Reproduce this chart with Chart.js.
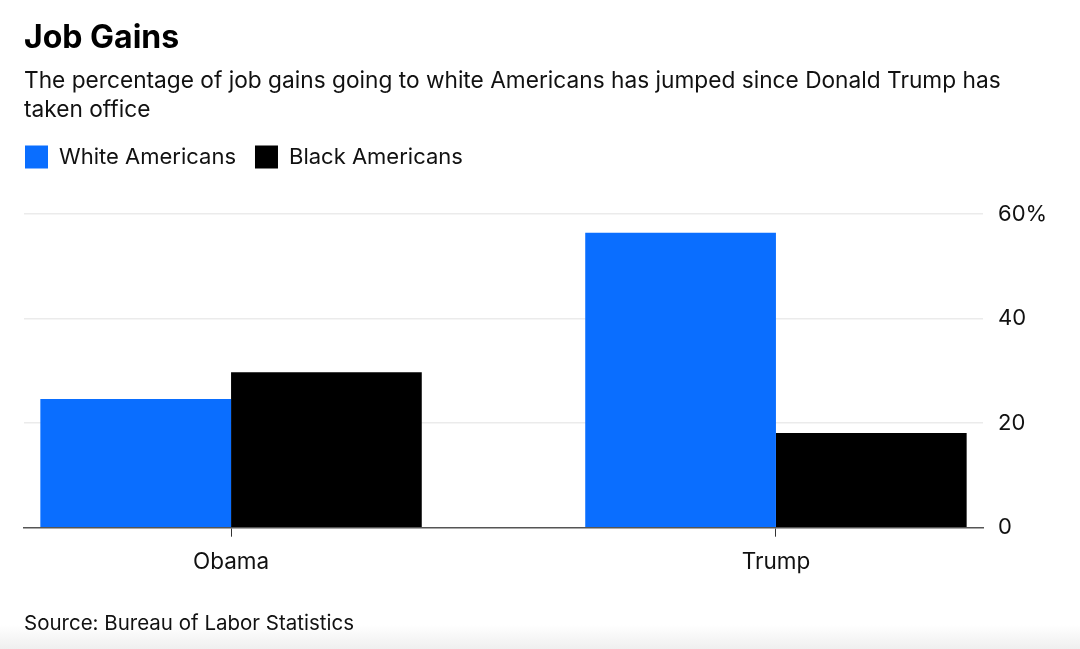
<!DOCTYPE html>
<html>
<head>
<meta charset="utf-8">
<script src="https://cdn.jsdelivr.net/npm/chart.js@4"></script>
<style>
  html, body { margin: 0; padding: 0; }
  body {
    width: 1080px; height: 649px; overflow: hidden;
    background: linear-gradient(to bottom, #ffffff 0px, #ffffff 625px, #efefef 649px);
  }
  #wrap { position: relative; width: 1080px; height: 649px; }
</style>
</head>
<body>
<div id="wrap"><canvas id="c" width="1080" height="649"></canvas></div>
<script>
// ---- data ----
const categories = ['Obama', 'Trump'];
const whiteAmericans = [24.6, 56.4];
const blackAmericans = [29.7, 18.1];
const yTicks = [0, 20, 40, 60];
const titleText = 'Job Gains';
const subtitleLines = ['The percentage of job gains going to white Americans has jumped since Donald Trump has', 'taken office'];
const sourceText = 'Source: Bureau of Labor Statistics';
const seriesNames = ['White Americans', 'Black Americans'];

const FONT = 'Inter, "Liberation Sans", Arial, sans-serif';
const BLUE = '#0a6eff';
const BLACK = '#000000';
const LEGEND_PAD = 19;

const toPoints = arr => arr.map((v, i) => ({ x: i, y: v }));

const legendShift = {
  id: 'legendShift',
  afterLayout(chart) {
    const lg = chart.legend;
    if (lg) { lg.left -= (LEGEND_PAD - 1); lg.right -= (LEGEND_PAD - 1); }
  }
};

new Chart(document.getElementById('c'), {
  type: 'bar',
  data: {
    datasets: [
      { label: seriesNames[0], data: toPoints(whiteAmericans), backgroundColor: BLUE, borderWidth: 0,
        categoryPercentage: 0.7, barPercentage: 1.0 },
      { label: seriesNames[1], data: toPoints(blackAmericans), backgroundColor: BLACK, borderWidth: 0,
        categoryPercentage: 0.7, barPercentage: 1.0 }
    ]
  },
  options: {
    responsive: false,
    animation: false,
    layout: { padding: { left: 24, right: 0, top: 0, bottom: 0 } },
    plugins: {
      tooltip: { enabled: false },
      title: {
        display: true, text: titleText, align: 'start', color: '#000',
        font: { family: FONT, size: 32, weight: 'bold' },
        padding: { top: 19.5, bottom: 3.9 }
      },
      subtitle: {
        display: true, text: subtitleLines, align: 'start', color: '#111',
        font: { family: FONT, size: 22.7, lineHeight: 29 / 22.7 },
        padding: { top: 4.6, bottom: 2.2 }
      },
      legend: {
        display: true, position: 'top', align: 'start',
        labels: {
          boxWidth: 23, boxHeight: 23, padding: LEGEND_PAD, color: '#111',
          font: { family: FONT, size: 22 }
        }
      }
    },
    scales: {
      x: {
        type: 'linear',
        min: -0.38, max: 1.38,
        offset: false,
        ticks: {
          stepSize: 1, includeBounds: false, autoSkip: false, maxRotation: 0,
          color: '#111', padding: 12,
          font: { family: FONT, size: 22.5 },
          callback: v => (categories[v] !== undefined ? categories[v] : '')
        },
        grid: { display: true, offset: false, drawOnChartArea: false, drawTicks: true, tickLength: 9, color: '#333', lineWidth: 1 },
        border: { display: true, color: '#555', width: 1.5 },
        title: {
          display: true, text: sourceText, align: 'start', color: '#111',
          font: { family: FONT, size: 20.5 },
          padding: { top: 0, bottom: 13 }
        },
        afterFit: s => { s.height = 121.3; }
      },
      xTop: {
        type: 'linear', position: 'top', axis: 'x', display: true,
        ticks: { display: false }, grid: { display: false }, border: { display: false },
        afterFit: s => { s.height = 35.3; }
      },
      y: {
        position: 'right',
        min: 0, max: 60,
        afterBuildTicks: s => { s.ticks = yTicks.map(v => ({ value: v })); },
        ticks: {
          color: '#111', padding: 15,
          font: { family: FONT, size: 22 },
          callback: v => (v === 60 ? v + '%' : String(v))
        },
        grid: {
          drawTicks: false,
          color: ctx => (ctx.tick && ctx.tick.value === 0 ? 'rgba(0,0,0,0)' : '#ebebeb'),
          lineWidth: 1.5
        },
        border: { display: false },
        afterFit: s => { s.width = 97; }
      }
    }
  },
  plugins: [legendShift]
});
</script>
</body>
</html>
